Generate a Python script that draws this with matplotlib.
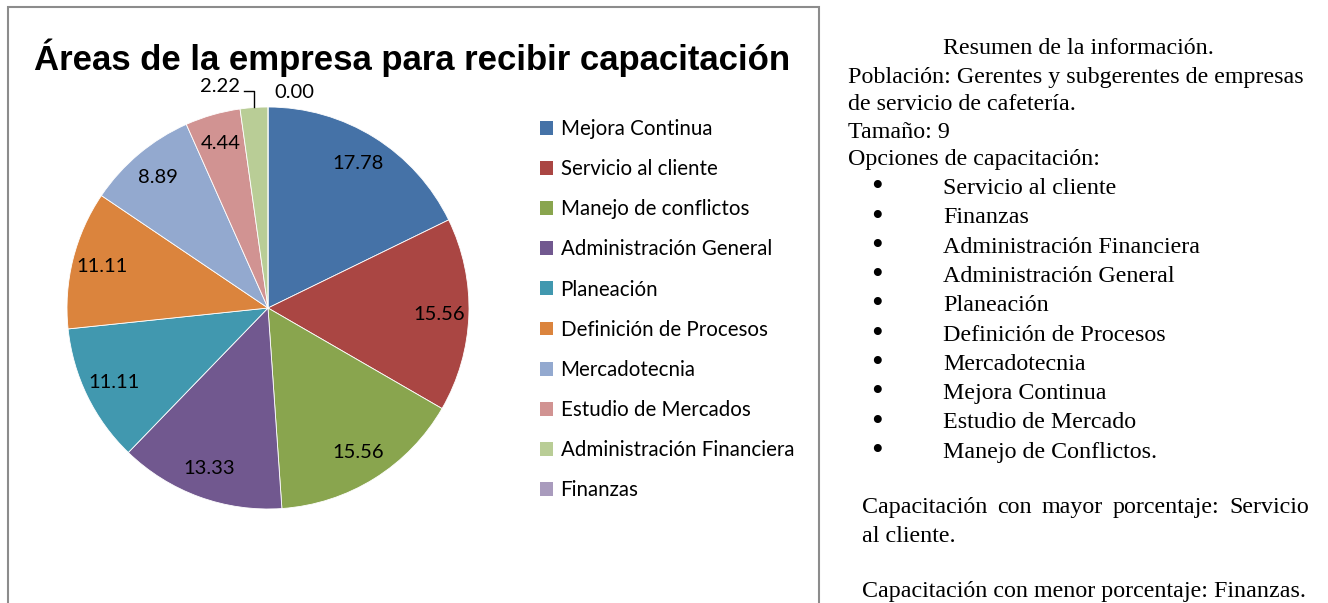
import numpy as np
import matplotlib.pyplot as plt
from matplotlib.patches import Rectangle, Patch
from matplotlib.lines import Line2D

W, H = 1328, 603

# -------- DATA --------
areas = ["Mejora Continua", "Servicio al cliente", "Manejo de conflictos",
         "Administración General", "Planeación", "Definición de Procesos",
         "Mercadotecnia", "Estudio de Mercados", "Administración Financiera",
         "Finanzas"]
values = [17.78, 15.56, 15.56, 13.33, 11.11, 11.11, 8.89, 4.44, 2.22, 0.00]
colors = ["#4572A7", "#AA4643", "#89A54E", "#71588F", "#4198AF",
          "#DB843D", "#93A9CF", "#D19392", "#B9CD96", "#A99BBD"]

title = "Áreas de la empresa para recibir capacitación"

resumen_title = "Resumen de la información."
resumen_lines = ["Población: Gerentes y subgerentes de empresas",
                 "de servicio de cafetería.",
                 "Tamaño: 9",
                 "Opciones de capacitación:"]
opciones = ["Servicio al cliente", "Finanzas", "Administración Financiera",
            "Administración General", "Planeación", "Definición de Procesos",
            "Mercadotecnia", "Mejora Continua", "Estudio de Mercado",
            "Manejo de Conflictos."]
mayor_line1 = "Capacitación con mayor porcentaje: Servicio"
mayor_line2 = "al cliente."
menor_line = "Capacitación con menor porcentaje: Finanzas."


def fx(px):
    return px / W


def fy(py):
    return 1 - py / H


fig = plt.figure(figsize=(W / 100, H / 100), dpi=100)

# -------- CHART BORDER --------
fig.patches.append(Rectangle((fx(8), fy(640)), fx(819) - fx(8), fy(7) - fy(640),
                             transform=fig.transFigure, fill=False,
                             edgecolor="#8C8C8C", linewidth=1.5))

# -------- TITLE --------
fig.text(fx(412), fy(58), title, ha="center", va="center", fontsize=25,
         fontweight="bold", family=["Liberation Sans Narrow", "Liberation Sans"])

# -------- PIE --------
cx, cy, r = 268, 308, 201
ax = fig.add_axes([fx(cx - r), fy(cy + r), (2 * r) / W, (2 * r) / H])
wedges, _ = ax.pie(values, colors=colors, startangle=90, counterclock=False,
                   radius=1, wedgeprops=dict(edgecolor="white", linewidth=0.6))
ax.set_xlim(-1, 1)
ax.set_ylim(-1, 1)
ax.set_aspect("equal")
ax.axis("off")

lbl_font = dict(fontsize=14.5, family=["Lato", "DejaVu Sans"], color="black")
for w, v in zip(wedges, values):
    mid = np.deg2rad((w.theta1 + w.theta2) / 2)
    if v >= 4:
        ax.text(0.85 * np.cos(mid), 0.85 * np.sin(mid), f"{v:.2f}",
                ha="center", va="center", **lbl_font)

# small slices: outside labels with leader line
mid_small = np.deg2rad((wedges[8].theta1 + wedges[8].theta2) / 2)
ex = np.cos(mid_small)
ax.add_line(Line2D([-0.12, ex, ex], [1.08, 1.08, np.sin(mid_small)],
                   color="black", linewidth=1.0, clip_on=False))
ax.text(-0.14, 1.10, f"{values[8]:.2f}", ha="right", va="center",
        clip_on=False, **lbl_font)
ax.text(0.13, 1.07, f"{values[9]:.2f}", ha="center", va="center",
        clip_on=False, **lbl_font)

# -------- LEGEND --------
handles = [Patch(facecolor=c, edgecolor="none") for c in colors]
fig.legend(handles, areas, loc="upper left",
           bbox_to_anchor=(fx(540), fy(119)), frameon=False,
           prop=dict(family=["Lato", "DejaVu Sans"], size=14.8),
           handlelength=0.65, handleheight=0.65, handletextpad=0.35,
           labelspacing=0.98, borderaxespad=0, borderpad=0)

# -------- SUMMARY TEXT --------
serif = dict(family=["Liberation Serif", "DejaVu Serif"], fontsize=17.3,
             color="black", va="baseline")
fig.text(fx(1078), fy(54), resumen_title, ha="center", **serif)
y = 83
for line in resumen_lines:
    fig.text(fx(848), fy(y), line, ha="left", **serif)
    y += 27.5
y = 194
for item in opciones:
    fig.text(fx(877), fy(y - 6), "•", ha="center", va="center",
             family=["Liberation Serif", "DejaVu Serif"], fontsize=24)
    fig.text(fx(943), fy(y), item, ha="left", **serif)
    y += 29.3

# justified line
words = mayor_line1.split()
renderer = fig.canvas.get_renderer()
objs = [fig.text(0, fy(513), wd, ha="left", **serif) for wd in words]
widths = [o.get_window_extent(renderer).width for o in objs]
left, right = 862, 1309
gap = (right - left - sum(widths)) / (len(words) - 1)
xp = left
for o, wd in zip(objs, widths):
    o.set_x(fx(xp))
    xp += wd + gap
fig.text(fx(862), fy(542), mayor_line2, ha="left", **serif)
fig.text(fx(862), fy(597), menor_line, ha="left", **serif)

fig.savefig("out.png", dpi=100)
